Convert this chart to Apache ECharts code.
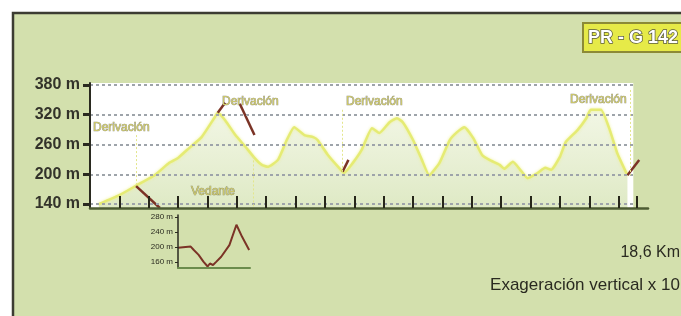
<!DOCTYPE html>
<html>
<head>
<meta charset="utf-8">
<title>PR-G 142</title>
<script src="https://cdn.jsdelivr.net/npm/echarts@6/dist/echarts.min.js"></script>
<style>
  html, body { margin: 0; padding: 0; background: #fff; }
  #main { width: 681px; height: 316px; }
</style>
</head>
<body>
<div id="main"></div>
<script>
// perfil principal: distancia (km) e altitude (m)
const profileKm   = [0.3, 1.0, 1.6, 2.2, 2.7, 3.0, 3.3, 3.8, 4.25, 4.35, 4.6, 4.95, 5.3, 5.6, 5.85, 6.05, 6.4, 6.7, 6.95, 7.3,
                     7.6, 7.75, 8.1, 8.45, 8.65, 8.95, 9.25, 9.6, 9.85, 10.2, 10.45, 10.65, 11.0, 11.3, 11.55, 11.9, 12.25, 12.5, 12.75, 13.05,
                     13.35, 13.6, 13.95, 14.1, 14.4, 14.65, 14.9, 15.25, 15.5, 15.7, 16.0, 16.2, 16.6, 16.9, 17.05, 17.4, 17.7, 17.95, 18.3];
const profileElev = [140, 158, 178, 198, 223, 233, 249, 275, 315, 324, 309, 279, 255, 233, 219, 215, 229, 269, 295, 279,
                     275, 269, 239, 215, 203, 223, 249, 293, 283, 305, 313, 305, 269, 229, 198, 223, 269, 285, 295, 273,
                     239, 229, 219, 211, 225, 209, 192, 203, 213, 209, 235, 265, 289, 313, 330, 330, 289, 243, 198];

// tramos de derivación (en marrón)
const branchKm   = [[1.57, 2.38], [4.35, 4.6], [5.1, 5.6], [8.6, 8.8], [18.3, 18.7]];
const branchElev = [[176, 132], [324, 344], [342, 279], [205, 229], [198, 229]];

// liñas verticais de punteado nas derivacións
const markerKm     = [1.57, 5.55, 8.6, 18.39];
const markerTop    = [279, 236, 330, 370];
const markerBottom = [176, 132, 203, 198];

// perfil pequeno (derivación)
const insetKm   = [0, 0.45, 0.56, 0.73, 0.9, 1.05, 1.13, 1.24, 1.36, 1.53, 1.82, 2.07, 2.27, 2.52];
const insetElev = [198, 201, 192, 179, 161, 148, 156, 152, 161, 174, 205, 259, 227, 192];

// marcas dos eixos
const yTicks     = [140, 200, 260, 320, 380];
const kmTicks    = [1, 2, 3, 4, 5, 6, 7, 8, 9, 10, 11, 12, 13, 14, 15, 16, 17, 18, 18.6];
const insetTicks = [160, 200, 240, 280];

const chart = echarts.init(document.getElementById('main'));

const pair = (xs, ys) => xs.map((x, i) => [x, ys[i]]);
const brown = '#7b3326';
const dark = '#2a2a20';
const FONT = '"Liberation Sans", Arial, sans-serif';
const plotEnd = 18.5;

const gridLines = yTicks.map(v => [
  { coord: [0, v], lineStyle: { type: [3, 3], color: '#9ea4aa', width: 2 } },
  { coord: [plotEnd, v] }
]);
const markerLines = markerKm.map((k, i) => [
  { coord: [k, markerTop[i]], lineStyle: { type: [2, 2], color: '#e3e68c', width: 1 } },
  { coord: [k, markerBottom[i]] }
]);

function label(text, x, y) {
  return {
    type: 'text', z: 50,
    style: { text: text, x: x, y: y, textVerticalAlign: 'middle',
             font: '12px ' + FONT, fill: '#cbc66a', stroke: 'rgba(95,95,70,0.7)', lineWidth: 0.7 }
  };
}

const option = {
  backgroundColor: '#ffffff',
  animation: false,
  graphic: [
    { type: 'rect', z: -100, silent: true,
      shape: { x: 13, y: 13, width: 700, height: 320 },
      style: { fill: '#d3e0ad', stroke: '#3c3c32', lineWidth: 2.5 } },
    { type: 'rect', z: 50, shape: { x: 583, y: 23, width: 110, height: 29 },
      style: { fill: '#e6ea48', stroke: '#8c8a36', lineWidth: 2 } },
    { type: 'text', z: 51,
      style: { text: 'PR - G 142', x: 588, y: 38, textVerticalAlign: 'middle',
               font: 'bold 18px ' + FONT, fill: '#ffffff', stroke: '#5a5a40', lineWidth: 1.5 } },
    label('Derivación', 93, 128),
    label('Derivación', 222, 102),
    label('Derivación', 346, 102),
    label('Derivación', 570, 100),
    label('Vedante', 191, 192),
    { type: 'text', z: 50,
      style: { text: '18,6 Km', x: 680, y: 253, textAlign: 'right', textVerticalAlign: 'middle',
               font: '16px ' + FONT, fill: dark } },
    { type: 'text', z: 50,
      style: { text: 'Exageración vertical x 10', x: 680, y: 285, textAlign: 'right', textVerticalAlign: 'middle',
               font: '17px ' + FONT, fill: dark } }
  ],
  grid: [
    { left: 90, top: 83, width: 558, height: 125 },
    { left: 178, top: 215, width: 72, height: 53 }
  ],
  xAxis: [
    { type: 'value', gridIndex: 0, min: 0, max: 19, z: 6,
      axisLine: { lineStyle: { color: '#4d5c33', width: 2.5 } },
      axisTick: { show: true, customValues: kmTicks, inside: true, length: 12,
                  lineStyle: { color: '#262619', width: 2 } },
      axisLabel: { show: false }, splitLine: { show: false } },
    { type: 'value', gridIndex: 1, min: 0, max: 2.55, z: 6,
      axisLine: { lineStyle: { color: '#6b8c4c', width: 2 } },
      axisTick: { show: false }, axisLabel: { show: false }, splitLine: { show: false } }
  ],
  yAxis: [
    { type: 'value', gridIndex: 0, min: 132, max: 384, z: 6,
      axisLine: { show: true, lineStyle: { color: dark, width: 2 } },
      axisTick: { show: true, customValues: yTicks, length: 7, lineStyle: { color: dark, width: 3 } },
      axisLabel: { customValues: yTicks, formatter: '{value} m', margin: 10,
                   fontSize: 16, fontWeight: 'bold', fontFamily: FONT, color: '#33332a' },
      splitLine: { show: false } },
    { type: 'value', gridIndex: 1, min: 144, max: 285, z: 6,
      axisLine: { show: true, lineStyle: { color: dark, width: 1.5 } },
      axisTick: { show: true, customValues: insetTicks, length: 3, lineStyle: { color: dark, width: 1 } },
      axisLabel: { customValues: insetTicks, formatter: '{value} m', margin: 5,
                   fontSize: 8, fontFamily: FONT, color: dark },
      splitLine: { show: false } }
  ],
  series: [
    { // fondo branco e liñas de punteado
      type: 'line', xAxisIndex: 0, yAxisIndex: 0, data: [[0, 132]], symbol: 'none',
      lineStyle: { opacity: 0 }, silent: true,
      markArea: { silent: true, itemStyle: { color: '#ffffff' },
                  data: [[{ coord: [0, 132] }, { coord: [plotEnd, 384] }]] },
      markLine: { silent: true, symbol: ['none', 'none'], label: { show: false },
                  data: gridLines.concat(markerLines) }
    },
    { // perfil
      type: 'line', xAxisIndex: 0, yAxisIndex: 0, z: 3,
      data: pair(profileKm, profileElev), symbol: 'none', smooth: 0.15,
      lineStyle: { color: '#e5eb74', width: 2.5, shadowColor: 'rgba(238,242,140,0.9)', shadowBlur: 3 },
      areaStyle: { origin: 'start', color: new echarts.graphic.LinearGradient(0, 0, 0, 1, [
        { offset: 0, color: 'rgba(212,226,170,0.45)' },
        { offset: 1, color: 'rgba(196,216,150,0.8)' }
      ]) }
    }
  ].concat(branchKm.map((k, i) => ({
      type: 'line', xAxisIndex: 0, yAxisIndex: 0, z: 4, clip: false,
      data: pair(k, branchElev[i]), symbol: 'none',
      lineStyle: { color: brown, width: 2.5 }
  }))).concat([
    { // perfil da derivación
      type: 'line', xAxisIndex: 1, yAxisIndex: 1, z: 4,
      data: pair(insetKm, insetElev), symbol: 'none',
      lineStyle: { color: brown, width: 2 }
    }
  ])
};

chart.setOption(option);
</script>
</body>
</html>
